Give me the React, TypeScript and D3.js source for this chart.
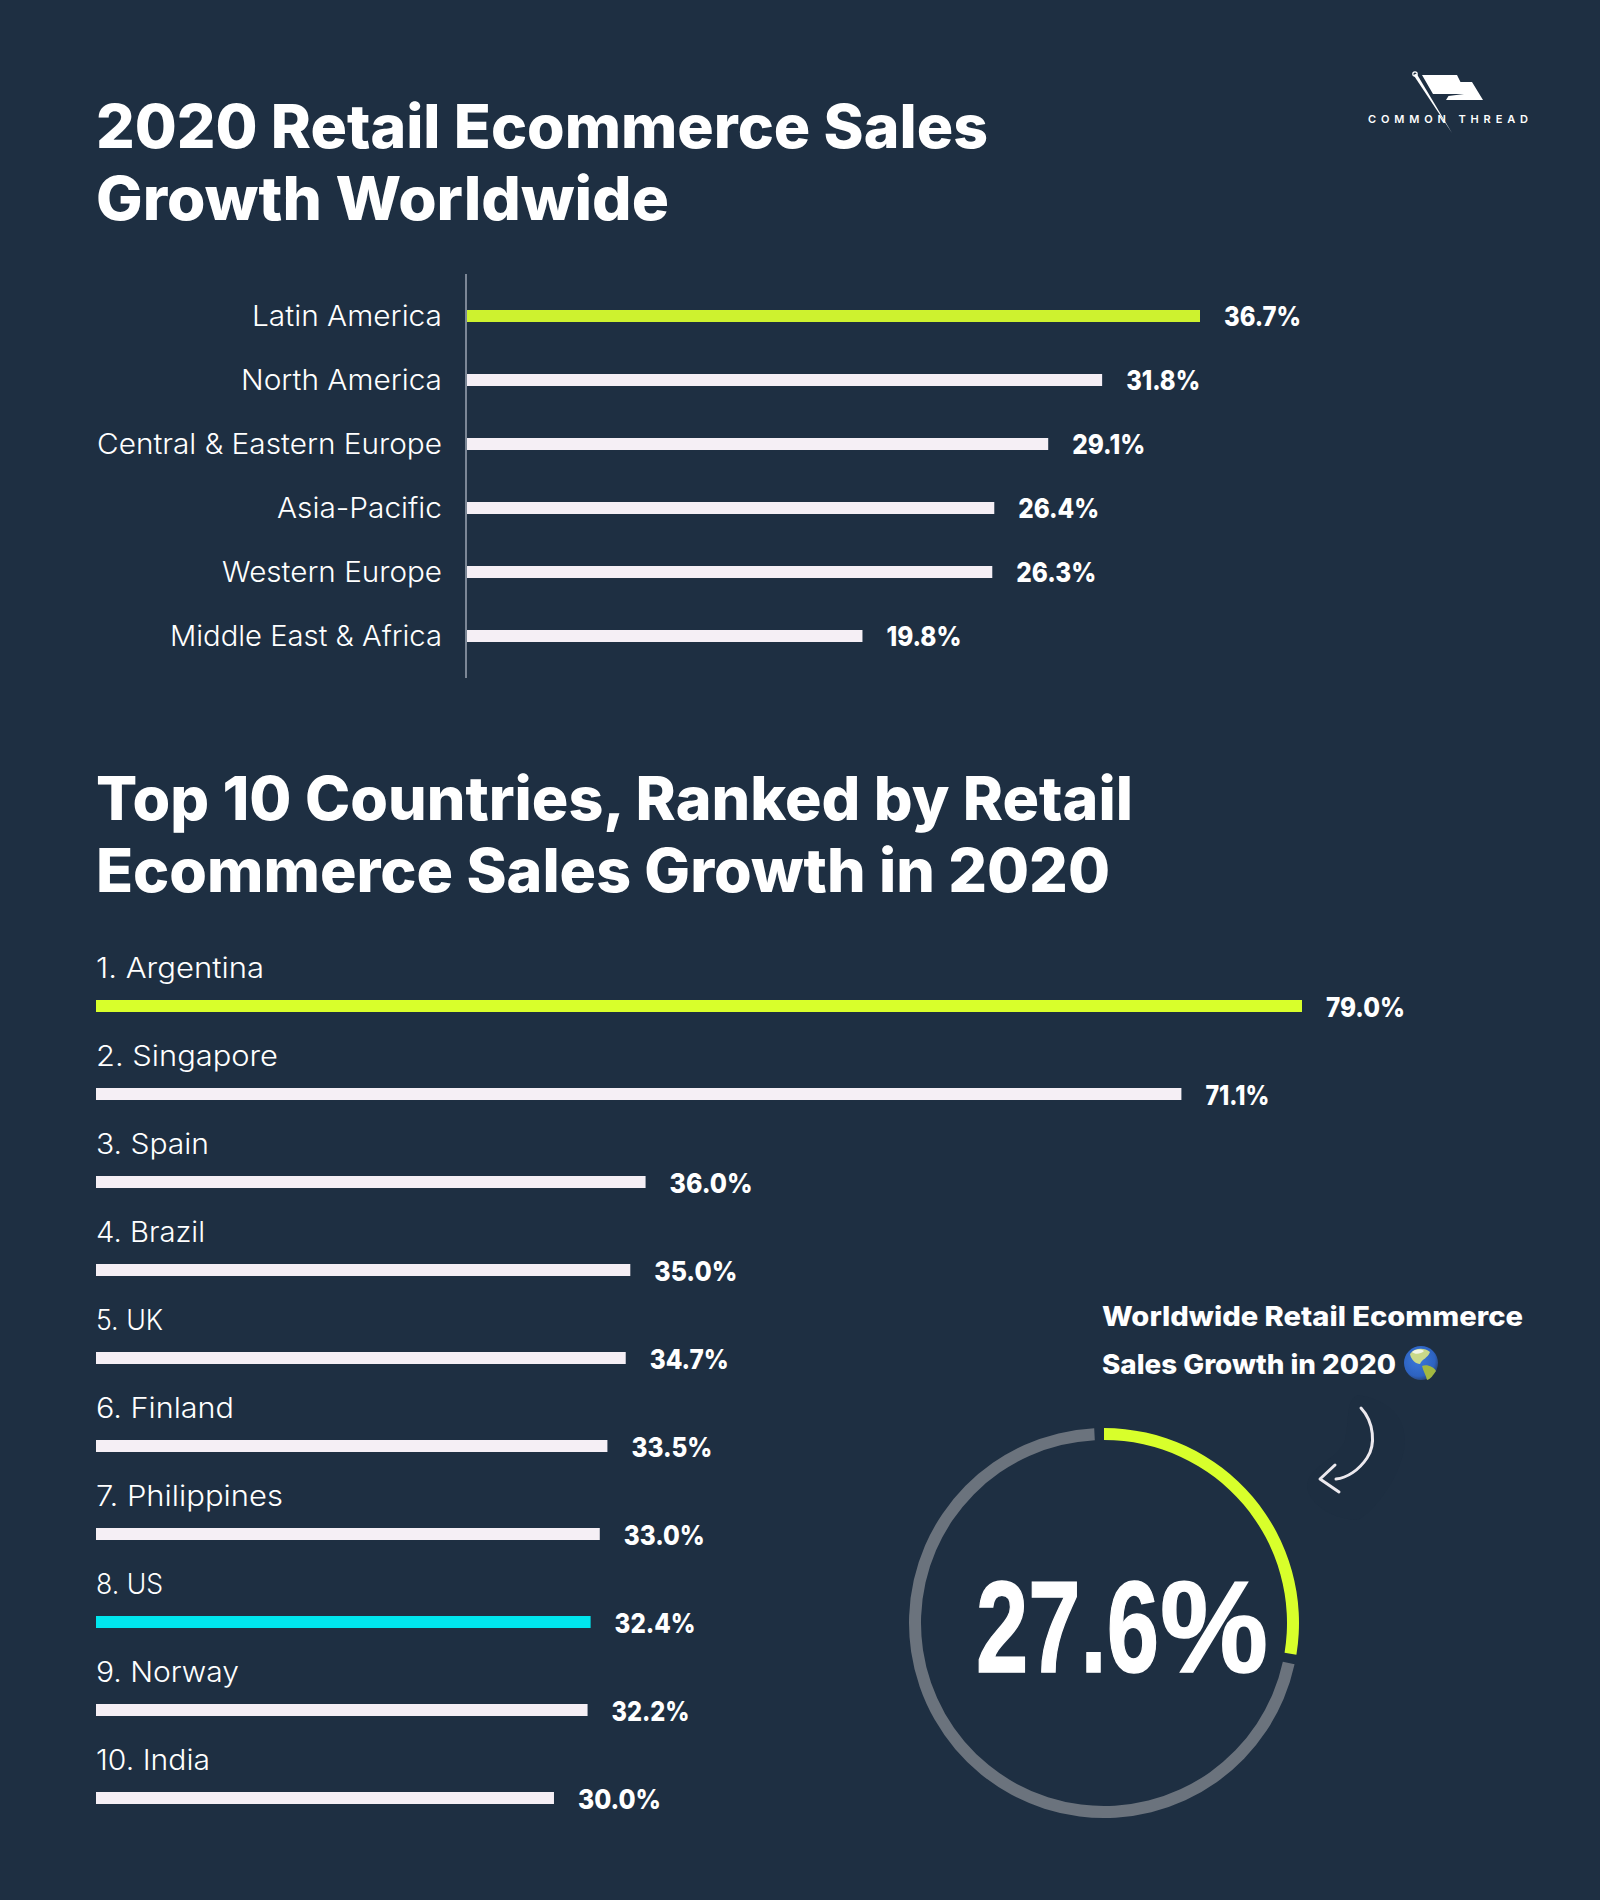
import React from "react";
import * as d3 from "d3";

const regions = ["Latin America", "North America", "Central & Eastern Europe", "Asia-Pacific", "Western Europe", "Middle East & Africa"];
const regionValues = [36.7, 31.8, 29.1, 26.4, 26.3, 19.8];
const countries = ["1. Argentina", "2. Singapore", "3. Spain", "4. Brazil", "5. UK", "6. Finland", "7. Philippines", "8. US", "9. Norway", "10. India"];
const countryValues = [79.0, 71.1, 36.0, 35.0, 34.7, 33.5, 33.0, 32.4, 32.2, 30.0];
const worldwide = 27.6;

const regionLabelW = [190, 201, 345, 165, 220, 272];
const regionValueW = [77, 74, 73, 81, 80, 75];
const countryLabelW = [168, 182, 113, 109, 67, 138, 187, 67, 143, 114];
const countryValueW = [79, 64, 83, 83, 79, 81, 81, 81, 78, 83];

const BG = "#1e2f42";
const LIME_TOP = "#cdf22f";
const LIME = "#d8ff2b";
const BAR = "#f5eff5";
const CYAN = "#00e6ee";
const RING = "#6b737d";
const AXIS = "#7c8796";
const UI = "Inter, 'Noto Sans', sans-serif";

const xTop = d3.scaleLinear().domain([0, 36.7]).range([467, 1200]);
const yTop = d3.scalePoint<string>().domain(regions).range([316, 636]);
const xBottom = d3.scaleLinear().domain([0, 79]).range([96, 1302]);
const yBottom = d3.scalePoint<string>().domain(countries).range([1006, 1798]);

const pct = d3.scaleLinear().domain([0, 100]).range([0, 2 * Math.PI]);
const arc = d3.arc<{ s: number; e: number }>()
  .innerRadius(183)
  .outerRadius(195)
  .startAngle((d) => pct(d.s))
  .endAngle((d) => pct(d.e));

function Fit(props: any) {
  const { w, children, adjust, ...rest } = props;
  return (
    <text textLength={w} lengthAdjust={adjust || "spacingAndGlyphs"} {...rest}>
      {children}
    </text>
  );
}

export default function App() {
  const titleStyle = { fontFamily: UI, fontWeight: 800, fontSize: 60, fill: "#fff" };
  const valueStyle = { fontFamily: UI, fontWeight: 800, fontSize: 27, fill: "#fff" };
  const labelStyle = { fontFamily: UI, fontWeight: 300, fontSize: 28, fill: "#fff" };
  return (
    <svg width={1600} height={1900} viewBox="0 0 1600 1900" style={{ position: "absolute", left: 0, top: 0, display: "block" }}>
      <defs>
        <radialGradient id="earth" cx="0.42" cy="0.4" r="0.65">
          <stop offset="0" stopColor="#3a78da" />
          <stop offset="0.75" stopColor="#2d62c0" />
          <stop offset="1" stopColor="#28406a" />
        </radialGradient>
      </defs>
      <rect width={1600} height={1900} fill={BG} />

      <Fit w={892} x={96} y={148} {...titleStyle}>2020 Retail Ecommerce Sales</Fit>
      <Fit w={573} x={96} y={220} {...titleStyle}>Growth Worldwide</Fit>
      <Fit w={1037} x={96} y={820} {...titleStyle}>Top 10 Countries, Ranked by Retail</Fit>
      <Fit w={1014} x={96} y={892} {...titleStyle}>Ecommerce Sales Growth in 2020</Fit>

      {/* Logo */}
      <g fill="#fff">
        <path d="M1422 75 L1457 75 L1460.5 82 L1472 82 L1483 100 L1446 100 L1448.5 96 L1464 94 L1433 94 Z" />
        <path d="M1413.5 75 L1416.5 73.5 L1452 133 Z" />
        <circle cx={1415} cy={74} r={2.2} fill="none" stroke="#fff" strokeWidth={1.2} />
        <Fit w={160} adjust="spacing" x={1368} y={123} fontFamily={UI} fontWeight={600} fontSize={11}>COMMON THREAD</Fit>
      </g>

      {/* Top chart */}
      <line x1={466} x2={466} y1={274} y2={678} stroke={AXIS} strokeWidth={2} />
      {regions.map((r, i) => (
        <g key={r}>
          <Fit w={regionLabelW[i]} x={442 - regionLabelW[i]} y={yTop(r)! + 10} {...labelStyle}>{r}</Fit>
          <rect x={xTop(0)} y={yTop(r)! - 6} width={xTop(regionValues[i]) - xTop(0)} height={12} fill={i === 0 ? LIME_TOP : BAR} />
          <Fit w={regionValueW[i]} x={xTop(regionValues[i]) + 24} y={yTop(r)! + 9.5} {...valueStyle}>{regionValues[i].toFixed(1)}%</Fit>
        </g>
      ))}

      {/* Bottom chart */}
      {countries.map((c, i) => (
        <g key={c}>
          <Fit w={countryLabelW[i]} x={96} y={yBottom(c)! - 28} {...labelStyle}>{c}</Fit>
          <rect x={xBottom(0)} y={yBottom(c)! - 6} width={xBottom(countryValues[i]) - xBottom(0)} height={12}
            fill={i === 0 ? LIME : c === "8. US" ? CYAN : BAR} />
          <Fit w={countryValueW[i]} x={xBottom(countryValues[i]) + 24} y={yBottom(c)! + 11} {...valueStyle}>{countryValues[i].toFixed(1)}%</Fit>
        </g>
      ))}

      {/* Callout */}
      <Fit w={421} x={1102} y={1326} {...valueStyle}>Worldwide Retail Ecommerce</Fit>
      <Fit w={294} x={1102} y={1374} {...valueStyle}>Sales Growth in 2020</Fit>
      <g>
        <circle cx={1421} cy={1363} r={17} fill="url(#earth)" />
        <path d="M1410 1354 C1414 1348 1424 1347 1430 1352 C1428 1358 1422 1359 1420 1364 C1416 1364 1411 1360 1410 1354 Z" fill="#c9d98a" />
        <path d="M1412 1352 C1416 1349 1421 1349 1424 1351 C1421 1354 1415 1355 1412 1352 Z" fill="#f2f5e6" />
        <path d="M1422 1366 C1427 1364 1434 1367 1436 1371 C1433 1375 1431 1379 1427 1380 C1426 1375 1423 1371 1422 1366 Z" fill="#a3b840" />
      </g>

      {/* Arrow */}
      <path d="M1358 1395 C1378 1398 1410 1410 1404 1450 C1398 1480 1375 1510 1358 1520 C1335 1520 1308 1505 1307 1485 C1310 1465 1340 1458 1345 1440 C1350 1420 1345 1400 1358 1395 Z" fill="#1d2e41" />
      <g fill="none" stroke="#ece9ee" strokeWidth={3} strokeLinecap="round" strokeLinejoin="round">
        <path d="M1361 1408 C1374 1422 1376 1445 1367 1458 C1359 1470 1347 1478 1336 1479" />
        <path d="M1335 1465 L1320 1479 L1339 1492" />
      </g>

      {/* Ring */}
      <g transform="translate(1104,1623)">
        <path d={arc({ s: 0, e: worldwide })!} fill={LIME} />
        <path d={arc({ s: worldwide + 0.8, e: 99.2 })!} fill={RING} />
      </g>
      <text y={1672} fontFamily="'Liberation Sans Narrow', 'Liberation Sans', sans-serif" fontWeight={700} fontSize={129} fill="#fff" stroke="#fff" strokeWidth={1.5}>
        <tspan x={976} textLength={183} lengthAdjust="spacingAndGlyphs">{worldwide.toFixed(1)}</tspan>
        <tspan x={1160} textLength={108} lengthAdjust="spacingAndGlyphs">%</tspan>
      </text>
    </svg>
  );
}
